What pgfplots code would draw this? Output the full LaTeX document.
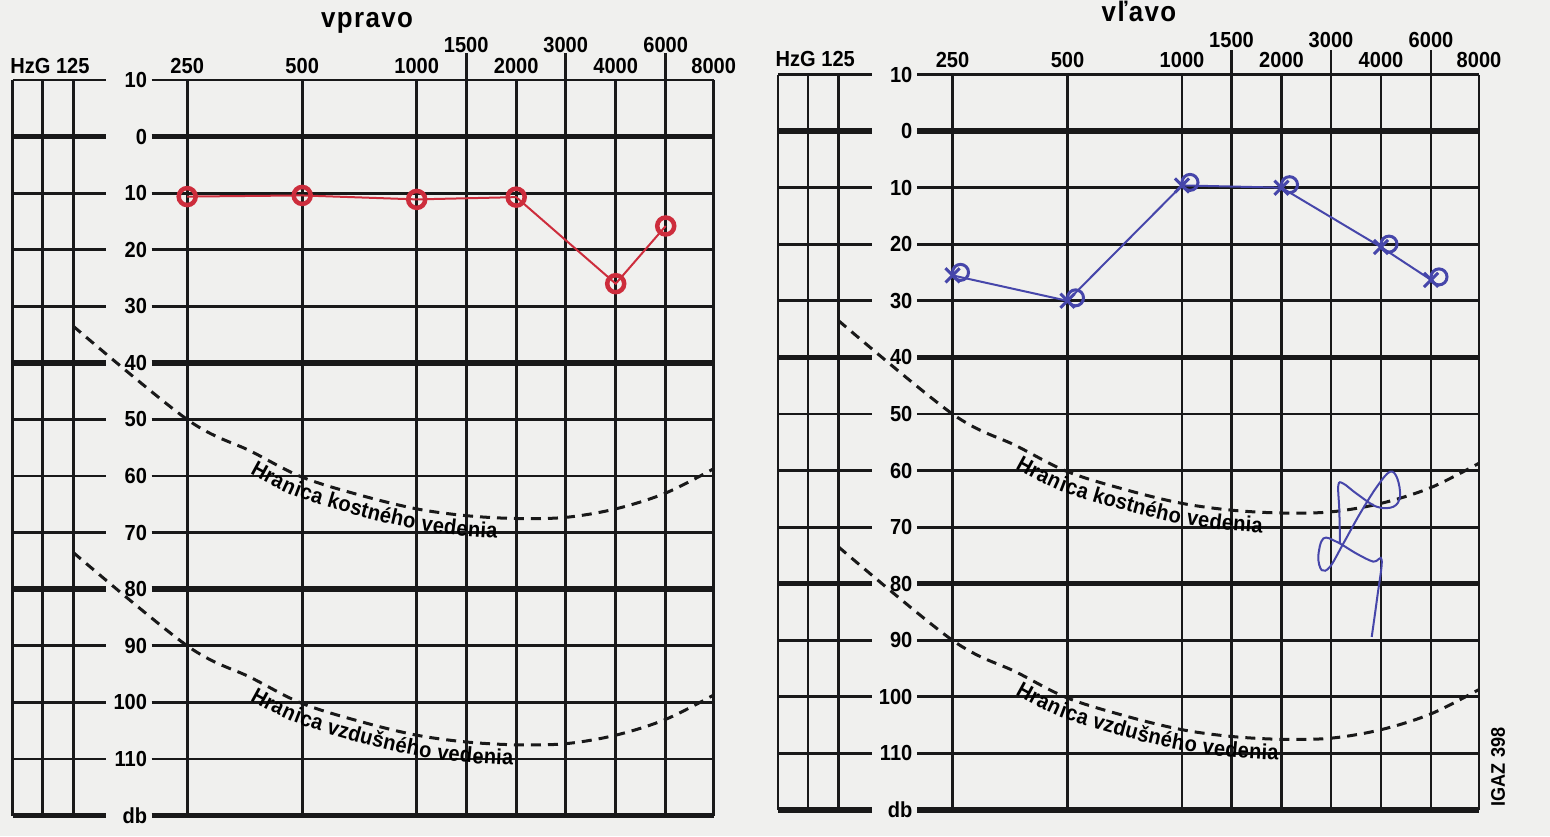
\documentclass[border=0pt]{standalone}
\usepackage{fontspec}
\setmainfont{Liberation Sans}
\newfontfamily\lblfont[FakeStretch=0.92]{Liberation Sans}
\newfontfamily\titlefont[FakeStretch=0.92, LetterSpace=5]{Liberation Sans}
\usepackage{pgfplots}
\usepackage{pgfplotstable}
\pgfplotsset{compat=1.18}
\usetikzlibrary{decorations.text}
\definecolor{paper}{RGB}{240,240,238}
\definecolor{ink}{RGB}{25,25,25}
\definecolor{redpen}{RGB}{205,45,60}
\definecolor{bluepen}{RGB}{70,70,170}

% x = position of the frequency column on the form (0.1 mm units), y = dB HL
\pgfplotstableread{
freq pos db
250  174.5 10.6
500  289.5 10.4
1000 404   11.1
2000 503.5 10.7
4000 603   26
6000 653   15.8
}\earright
\pgfplotstableread{
freq pos db
250  174.5 25.5
500  289.5 30
1000 404   9.6
2000 503.5 10
4000 603   20.5
6000 653   26.3
}\earleft
% limit curves (bone conduction; air conduction = +40 dB)
\pgfplotstableread{
pos db
60.5  33.5
174.5 50
238   55.6
289.5 60.2
350   63.5
404   65.8
453.5 67
503.5 67.5
553   67.3
603   65.8
653   63
701   58.7
}\bonelimit
\pgfplotstableread{
pos db
60.5  73.5
174.5 90
238   95.6
289.5 100.2
350   103.5
404   105.8
453.5 107
503.5 107.5
553   107.3
603   105.8
653   103
701   98.7
}\airlimit

\newcommand\lbl{\lblfont\bfseries\fontsize{6.2}{7}\selectfont}
\pgfplotsset{
 gridbase/.style={
  scale only axis, height=73.55mm,
  ymin=-10, ymax=120, y dir=reverse,
  clip=false,
  axis line style={draw=none},
  major tick style={draw=none}, minor tick style={draw=none},
  ytick={-10,10,20,30,50,60,70,90,100,110},
  extra y ticks={0,40,80,120},
  extra y tick style={grid style={ink, line width=0.55mm}},
  grid=major,
  grid style={ink, line width=0.28mm},
 },
 sidestrip/.style={gridbase, width=9.35mm, xmin=0, xmax=93.5,
  xtick={0,30,60.5}, xticklabels={}, yticklabels={}, extra y tick labels={}},
 mainpanel/.style={gridbase, width=56.2mm, xmin=139, xmax=701,
  xtick={174.5,289.5,404,453.5,503.5,553,603,653,701},
  xticklabels={250,500,1000,\raisebox{2.05mm}{1500},2000,\raisebox{2.05mm}{3000},4000,\raisebox{2.05mm}{6000},8000},
  xticklabel pos=upper,
  x tick label style={anchor=south, inner sep=0pt, yshift=0.6mm, font=\lbl},
  yticklabels={10,10,20,30,50,60,70,90,100,110},
  extra y tick labels={0,40,80,db},
  y tick label style={anchor=east, inner sep=0pt, xshift=-0.4mm, font=\lbl},
 },
 limitcurve/.style={ink, line width=0.3mm, dash pattern=on 1mm off 0.7mm, smooth, tension=0.55, no markers},
}

\begin{document}
\begin{tikzpicture}
\fill[paper] (0,0) rectangle (155mm,83.6mm);

% ---------------- right ear (vpravo) ----------------
\begin{axis}[sidestrip, at={(1.27mm,2.05mm)}, anchor=south west]
 \node[anchor=base west, inner sep=0pt, font=\lbl] at (axis cs:-3,-11.1) {HzG 125};
\end{axis}
\begin{axis}[mainpanel, at={(15.17mm,2.05mm)}, anchor=south west]
 \pgfplotsinvokeforeach{453.5,553,653}{\draw[ink, line width=0.28mm] (axis cs:#1,-10) -- (axis cs:#1,-14.8);}
 \addplot[limitcurve] table[x=pos, y=db] {\bonelimit};
 \addplot[limitcurve] table[x=pos, y=db] {\airlimit};
 \path[decorate, decoration={text along path, text={|\lbl|Hranica kostného vedenia}, raise=-2.05mm, text align=left}]
   plot[smooth] coordinates {(247,56.4) (289.5,60.2) (350,63.5) (404,65.8) (453.5,67) (503.5,67.5) (553,67.3)};
 \path[decorate, decoration={text along path, text={|\lbl|Hranica vzdušného vedenia}, raise=-2.05mm, text align=left}]
   plot[smooth] coordinates {(247,96.4) (289.5,100.2) (350,103.5) (404,105.8) (453.5,107) (503.5,107.5) (553,107.3)};
 \addplot[redpen, line width=0.2mm, mark=o, mark size=0.85mm, mark options={line width=0.45mm}] table[x=pos, y=db] {\earright};
\end{axis}

% ---------------- left ear (vlavo) ----------------
\begin{axis}[sidestrip, at={(77.8mm,2.6mm)}, anchor=south west]
 \node[anchor=base west, inner sep=0pt, font=\lbl] at (axis cs:-3,-11.5) {HzG 125};
\end{axis}
\begin{axis}[mainpanel, at={(91.7mm,2.6mm)}, anchor=south west]
 \pgfplotsinvokeforeach{453.5,553,653}{\draw[ink, line width=0.28mm] (axis cs:#1,-10) -- (axis cs:#1,-14.3);}
 \addplot[limitcurve] table[x=pos, y=db] {\bonelimit};
 \addplot[limitcurve] table[x=pos, y=db] {\airlimit};
 \path[decorate, decoration={text along path, text={|\lbl|Hranica kostného vedenia}, raise=-2.05mm, text align=left}]
   plot[smooth] coordinates {(247,56.4) (289.5,60.2) (350,63.5) (404,65.8) (453.5,67) (503.5,67.5) (553,67.3)};
 \path[decorate, decoration={text along path, text={|\lbl|Hranica vzdušného vedenia}, raise=-2.05mm, text align=left}]
   plot[smooth] coordinates {(247,96.4) (289.5,100.2) (350,103.5) (404,105.8) (453.5,107) (503.5,107.5) (553,107.3)};
 \addplot[bluepen, line width=0.2mm, mark=x, mark size=1.0mm, mark options={line width=0.3mm}] table[x=pos, y=db] {\earleft};
 \addplot[bluepen, only marks, mark=o, mark size=0.8mm, mark options={line width=0.3mm, xshift=0.8mm, yshift=0.3mm}] table[x=pos, y=db] {\earleft};
 % pen scribble
 \draw[bluepen, line width=0.2mm] plot[smooth, tension=0.6] coordinates {(593.7,89.4) (599.3,82.3) (603.7,75.8) (595.3,76.1) (578.7,74.7) (558.7,72.6) (545.3,72.0) (540.3,75.2) (543.7,77.6) (552,77.0) (565.3,72.9) (582,67.6) (598.7,62.9) (612,60.2) (619.3,61.4) (622,64.6) (615.3,66.4) (598.7,66.4) (578.7,64.1) (565.3,62.3) (560.3,62.6) (561.3,67.0) (562,72.9)};
 \node[rotate=90, inner sep=0pt, font=\lblfont\bfseries\fontsize{5.6}{6}\selectfont] at (axis cs:720,112.4) {IGAZ 398};
\end{axis}

\node[anchor=base, inner sep=0pt, font=\titlefont\bfseries\fontsize{8}{9}\selectfont] at (36.7mm,80.9mm) {vpravo};
\node[anchor=base, inner sep=0pt, font=\titlefont\bfseries\fontsize{8}{9}\selectfont] at (113.9mm,81.5mm) {vľavo};

\pgfresetboundingbox
\useasboundingbox (0,0) rectangle (155mm,83.6mm);
\end{tikzpicture}
\end{document}
